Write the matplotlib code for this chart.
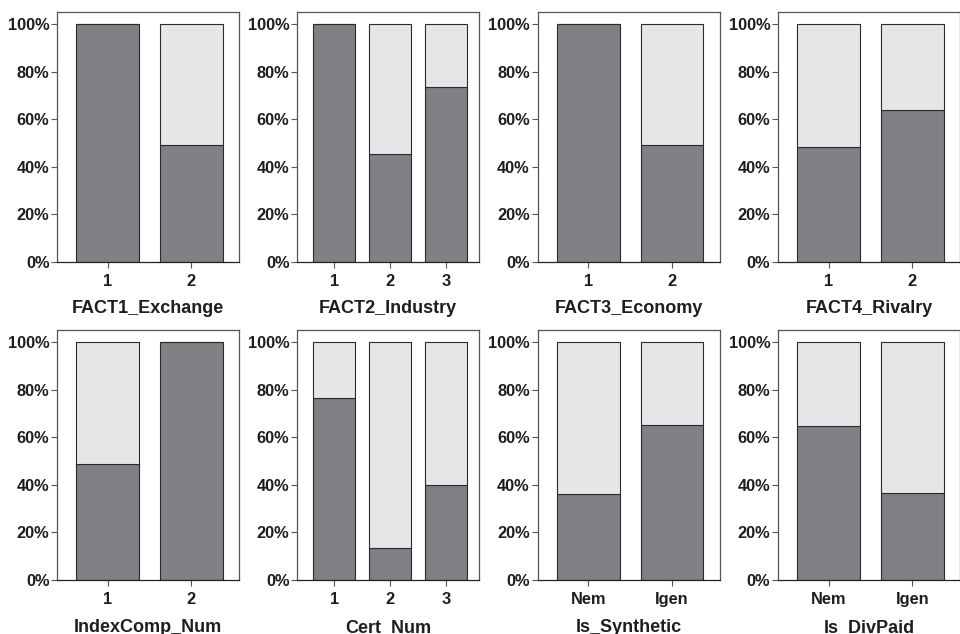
import matplotlib.pyplot as plt
from matplotlib.ticker import FuncFormatter

plt.rcParams['font.family'] = ['Liberation Sans', 'DejaVu Sans']
plt.rcParams['font.weight'] = 'bold'

# share of each category (percent): lower dark segment, upper light segment
fact1_cats = ['1', '2']
fact1_dark = [100.0, 49.0]
fact1_light = [0.0, 51.0]

fact2_cats = ['1', '2', '3']
fact2_dark = [100.0, 45.2, 73.5]
fact2_light = [0.0, 54.8, 26.5]

fact3_cats = ['1', '2']
fact3_dark = [100.0, 49.2]
fact3_light = [0.0, 50.8]

fact4_cats = ['1', '2']
fact4_dark = [48.2, 63.9]
fact4_light = [51.8, 36.1]

index_cats = ['1', '2']
index_dark = [48.7, 100.0]
index_light = [51.3, 0.0]

cert_cats = ['1', '2', '3']
cert_dark = [76.4, 13.5, 40.0]
cert_light = [23.6, 86.5, 60.0]

synth_cats = ['Nem', 'Igen']
synth_dark = [36.0, 65.3]
synth_light = [64.0, 34.7]

div_cats = ['Nem', 'Igen']
div_dark = [64.6, 36.8]
div_light = [35.4, 63.2]

panels = [
    ('FACT1_Exchange', fact1_cats, fact1_dark, fact1_light),
    ('FACT2_Industry', fact2_cats, fact2_dark, fact2_light),
    ('FACT3_Economy', fact3_cats, fact3_dark, fact3_light),
    ('FACT4_Rivalry', fact4_cats, fact4_dark, fact4_light),
    ('IndexComp_Num', index_cats, index_dark, index_light),
    ('Cert_Num', cert_cats, cert_dark, cert_light),
    ('Is_Synthetic', synth_cats, synth_dark, synth_light),
    ('Is_DivPaid', div_cats, div_dark, div_light),
]

DARK = '#808184'
LIGHT = '#e5e6e8'
EDGE = '#2b2b2b'
TEXT = '#1e1e1e'

fig = plt.figure(figsize=(9.6, 6.34), dpi=100)

lefts = [0.0594, 0.3094, 0.5599, 0.8104]
bottoms = [0.5872, 0.0852]
w, h = 0.1896, 0.3936

for i, (name, cats, dark, light) in enumerate(panels):
    ax = fig.add_axes([lefts[i % 4], bottoms[i // 4], w, h])
    x = list(range(len(cats)))
    ax.bar(x, [d / 100 for d in dark], width=0.75, color=DARK,
           edgecolor=EDGE, linewidth=0.8)
    ax.bar(x, [l / 100 for l in light], bottom=[d / 100 for d in dark],
           width=0.75, color=LIGHT, edgecolor=EDGE, linewidth=0.8)

    if len(cats) == 2:
        ax.set_xlim(-0.607, 1.57)
    else:
        ax.set_xlim(-0.667, 2.587)
    ax.set_ylim(0, 1.05)
    ax.set_yticks([0, 0.2, 0.4, 0.6, 0.8, 1.0])
    ax.yaxis.set_major_formatter(FuncFormatter(lambda v, p: f'{v * 100:.0f}%'))
    ax.set_xticks(x)
    ax.set_xticklabels(cats)

    ax.tick_params(axis='both', direction='out', length=4, width=0.8,
                   color='#555555', labelsize=11.8, labelcolor=TEXT)
    ax.tick_params(axis='x', pad=5)
    ax.tick_params(axis='y', pad=1.5)
    for lab in ax.get_xticklabels() + ax.get_yticklabels():
        lab.set_fontweight('bold')
    for s in ax.spines.values():
        s.set_color('#555555')
        s.set_linewidth(0.9)
    ax.spines['bottom'].set_color('#222222')

    ax.set_xlabel(name, fontsize=13, fontweight='bold', color=TEXT,
                  labelpad=8)

fig.savefig('out.png', dpi=100)
